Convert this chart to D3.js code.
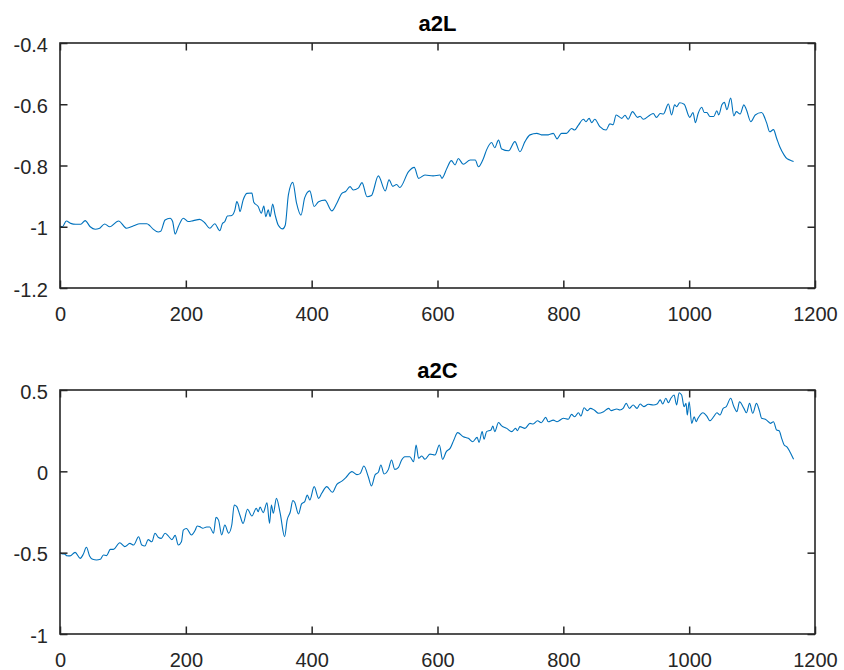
<!DOCTYPE html>
<meta charset="utf-8" />
<style>
  body { margin: 0; background: #fff; }
  svg { display: block; font-family: "Liberation Sans", Arial, sans-serif; }
</style>
<body>
<div id="chart"></div>
<script src="https://cdn.jsdelivr.net/npm/d3@7"></script>
<script>
  // a2L (sample index, value)
  const xL = [0,4,10,17,25,33,40,48,56,62,71,79,93,106,117,127,138,143,148,156,160,167,175,179,183,188,196,204,212,222,230,238,246,254,258,262,266,273,278,281,284,286,291,297,305,308,315,320,324,327,331,334,338,342,347,354,358,363,370,376,383,389,397,404,411,421,432,440,448,454,461,466,474,480,488,495,506,517,523,529,535,540,554,563,570,580,593,604,607,615,622,628,633,641,652,660,665,673,678,686,691,697,702,713,723,731,739,747,758,765,776,784,790,797,805,813,818,824,832,836,841,845,850,858,868,874,879,884,893,898,903,910,918,922,927,938,943,948,954,959,967,972,977,980,985,992,1001,1006,1010,1014,1020,1024,1028,1033,1039,1044,1047,1052,1056,1060,1066,1071,1075,1081,1087,1091,1098,1105,1115,1123,1128,1134,1139,1144,1151,1155,1160,1166];
  const a2L = [-0.998,-1.0,-0.981,-0.989,-0.992,-0.992,-0.98,-1.0,-1.008,-1.006,-0.991,-1.0,-0.981,-1.005,-0.997,-0.99,-0.99,-0.997,-1.008,-1.017,-1.015,-0.978,-0.972,-0.983,-1.024,-1.0,-0.972,-0.983,-0.98,-0.976,-0.987,-1.005,-0.99,-1.013,-0.99,-0.983,-0.965,-0.963,-0.945,-0.918,-0.932,-0.951,-0.913,-0.891,-0.89,-0.92,-0.934,-0.956,-0.932,-0.967,-0.945,-0.967,-0.926,-0.962,-0.995,-1.007,-0.995,-0.896,-0.855,-0.923,-0.962,-0.905,-0.883,-0.934,-0.918,-0.913,-0.948,-0.923,-0.891,-0.885,-0.869,-0.88,-0.874,-0.856,-0.902,-0.898,-0.834,-0.883,-0.847,-0.868,-0.862,-0.872,-0.82,-0.806,-0.842,-0.831,-0.834,-0.831,-0.842,-0.809,-0.784,-0.798,-0.777,-0.796,-0.782,-0.782,-0.804,-0.777,-0.749,-0.725,-0.742,-0.717,-0.746,-0.752,-0.722,-0.755,-0.722,-0.70,-0.695,-0.70,-0.70,-0.695,-0.713,-0.695,-0.695,-0.679,-0.684,-0.668,-0.649,-0.657,-0.646,-0.66,-0.649,-0.673,-0.684,-0.664,-0.667,-0.635,-0.646,-0.636,-0.649,-0.624,-0.643,-0.639,-0.649,-0.635,-0.63,-0.643,-0.63,-0.632,-0.599,-0.635,-0.602,-0.608,-0.595,-0.60,-0.643,-0.627,-0.66,-0.632,-0.61,-0.627,-0.627,-0.64,-0.64,-0.621,-0.635,-0.602,-0.594,-0.618,-0.58,-0.638,-0.624,-0.632,-0.602,-0.618,-0.657,-0.635,-0.627,-0.66,-0.69,-0.683,-0.711,-0.739,-0.766,-0.777,-0.782,-0.787];

  // a2C
  const xC = [0,3,8,11,16,24,32,37,42,47,52,58,64,69,74,80,85,95,103,111,117,125,130,135,140,146,151,156,161,167,172,178,183,188,193,196,201,209,215,218,222,227,233,238,244,248,252,257,262,268,273,277,281,286,291,298,305,312,315,318,323,329,333,336,339,344,350,357,361,366,370,373,379,384,389,393,397,404,411,416,424,433,440,448,454,464,472,477,483,490,495,501,506,510,515,522,527,532,538,543,548,556,562,566,570,575,580,588,596,603,608,614,620,626,632,641,649,656,663,666,671,674,678,685,688,691,697,702,710,718,724,727,731,739,747,752,759,765,772,776,784,790,800,808,813,818,824,828,833,838,843,849,856,864,872,876,885,890,895,900,905,911,917,922,928,935,943,949,954,958,963,967,971,976,980,984,988,992,995,997,1000,1004,1008,1011,1014,1022,1028,1033,1039,1044,1049,1054,1059,1066,1071,1076,1080,1087,1091,1096,1101,1107,1112,1115,1121,1126,1129,1134,1139,1143,1147,1151,1155,1160,1166];
  const a2C = [-0.50,-0.506,-0.51,-0.519,-0.52,-0.498,-0.535,-0.51,-0.467,-0.52,-0.541,-0.545,-0.541,-0.514,-0.518,-0.48,-0.48,-0.439,-0.463,-0.443,-0.453,-0.402,-0.453,-0.459,-0.42,-0.433,-0.381,-0.405,-0.412,-0.381,-0.397,-0.42,-0.394,-0.453,-0.433,-0.361,-0.351,-0.391,-0.361,-0.336,-0.34,-0.35,-0.342,-0.342,-0.381,-0.283,-0.30,-0.391,-0.33,-0.38,-0.33,-0.207,-0.217,-0.27,-0.32,-0.233,-0.275,-0.227,-0.248,-0.22,-0.254,-0.193,-0.32,-0.207,-0.258,-0.166,-0.258,-0.402,-0.30,-0.25,-0.18,-0.19,-0.262,-0.20,-0.186,-0.146,-0.176,-0.094,-0.166,-0.135,-0.094,-0.129,-0.08,-0.06,-0.04,-0.002,-0.02,-0.014,0.033,-0.033,-0.09,-0.02,-0.006,0.039,-0.016,0.012,0.07,0.012,0.025,0.07,0.09,0.09,0.059,0.162,0.08,0.094,0.074,0.106,0.10,0.162,0.074,0.121,0.141,0.193,0.238,0.213,0.203,0.182,0.209,0.178,0.244,0.197,0.244,0.254,0.279,0.244,0.30,0.279,0.264,0.244,0.264,0.25,0.275,0.264,0.295,0.291,0.311,0.299,0.332,0.305,0.315,0.305,0.326,0.320,0.35,0.336,0.36,0.34,0.391,0.373,0.387,0.377,0.357,0.367,0.387,0.373,0.383,0.377,0.387,0.418,0.387,0.408,0.387,0.414,0.398,0.412,0.408,0.414,0.439,0.414,0.449,0.422,0.449,0.469,0.408,0.483,0.469,0.397,0.418,0.346,0.428,0.295,0.336,0.305,0.326,0.36,0.34,0.311,0.336,0.36,0.346,0.387,0.398,0.449,0.398,0.367,0.428,0.387,0.36,0.418,0.357,0.418,0.367,0.326,0.32,0.305,0.295,0.305,0.254,0.25,0.203,0.162,0.152,0.121,0.074];

  const xTicks = [0, 200, 400, 600, 800, 1000, 1200];
  const yTicksL = [-1.2, -1, -0.8, -0.6, -0.4];
  const yTicksC = [-1, -0.5, 0, 0.5];

  const width = 844, height = 670;
  const left = 60, right = 815;
  const ink = "#262626";
  const tickLen = 7.5;

  const svg = d3.select("#chart").append("svg")
    .attr("width", width).attr("height", height);
  svg.append("rect").attr("width", width).attr("height", height).attr("fill", "#fff");

  const x = d3.scaleLinear().domain([0, 1200]).range([left, right]);

  function panel(title, xs, ys, yDomain, yTicks, top, bottom) {
    const y = d3.scaleLinear().domain(yDomain).range([bottom, top]);
    const g = svg.append("g");

    // line
    g.append("path")
      .datum(d3.zip(xs, ys))
      .attr("fill", "none")
      .attr("stroke", "#0072BD")
      .attr("stroke-width", 1.1)
      .attr("stroke-linejoin", "round")
      .attr("d", d3.line().curve(d3.curveMonotoneX).x(d => x(d[0])).y(d => y(d[1])));

    // bottom axis with labels, ticks pointing in
    const gb = g.append("g").attr("transform", "translate(0," + bottom + ")")
      .call(d3.axisBottom(x).tickValues(xTicks).tickSizeInner(-tickLen).tickSizeOuter(0).tickFormat(d => String(d)));
    gb.selectAll("text").attr("y", 33).attr("dy", null);

    const gt = g.append("g").attr("transform", "translate(0," + top + ")")
      .call(d3.axisTop(x).tickValues(xTicks).tickSizeInner(-tickLen).tickSizeOuter(0).tickFormat(""));

    const gl = g.append("g").attr("transform", "translate(" + left + ",0)")
      .call(d3.axisLeft(y).tickValues(yTicks).tickSizeInner(-tickLen).tickSizeOuter(0).tickFormat(d => String(d)));
    gl.selectAll("text").attr("x", -12).attr("dy", null).attr("y", 8);

    const gr = g.append("g").attr("transform", "translate(" + right + ",0)")
      .call(d3.axisRight(y).tickValues(yTicks).tickSizeInner(-tickLen).tickSizeOuter(0).tickFormat(""));

    [gb, gt, gl, gr].forEach(a => {
      a.select(".domain").remove();
      a.selectAll("line").attr("stroke", ink).attr("stroke-width", 1.5);
      a.selectAll("text").attr("fill", ink).attr("font-size", 20)
        .attr("font-family", "'Liberation Sans', Arial, sans-serif");
    });

    g.append("rect")
      .attr("x", left).attr("y", top)
      .attr("width", right - left).attr("height", bottom - top)
      .attr("fill", "none").attr("stroke", ink).attr("stroke-width", 1.6);

    g.append("text")
      .attr("x", (left + right) / 2).attr("y", top - 12)
      .attr("text-anchor", "middle")
      .attr("font-size", 22).attr("font-weight", "bold").attr("fill", "#000")
      .text(title);
  }

  panel("a2L", xL, a2L, [-1.2, -0.4], yTicksL, 43, 288);
  panel("a2C", xC, a2C, [-1, 0.5], yTicksC, 390, 634);
</script>
</body>
